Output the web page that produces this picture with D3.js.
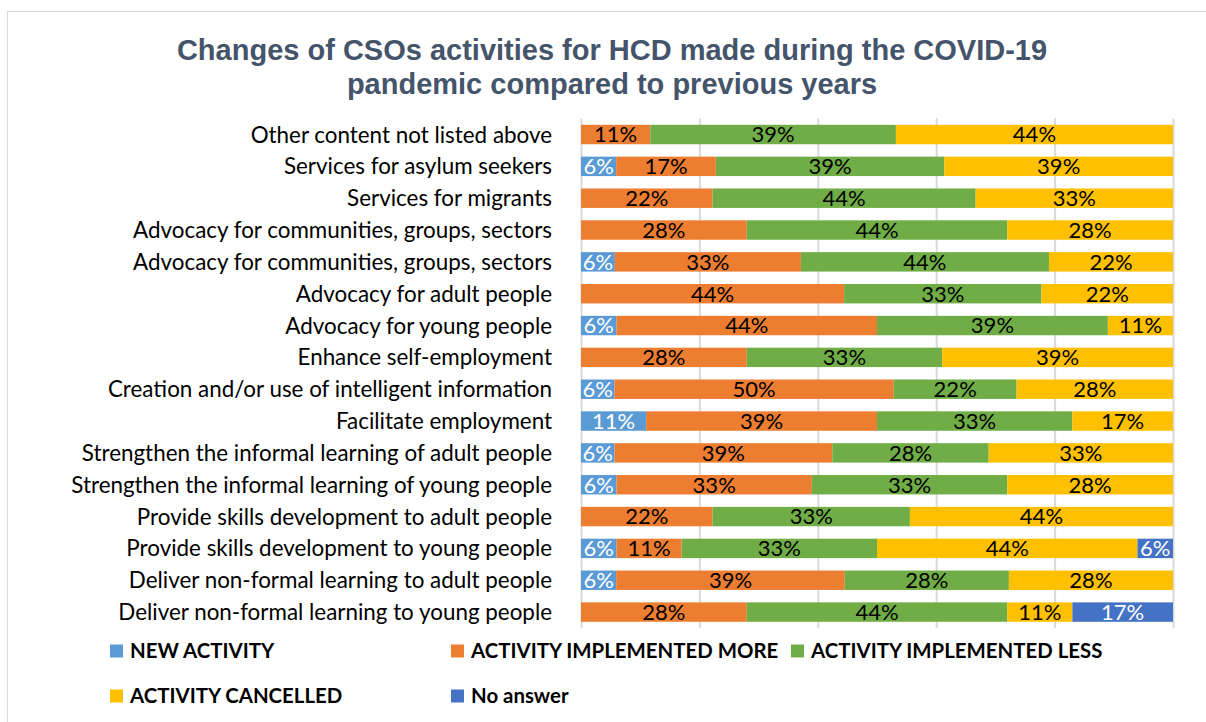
<!DOCTYPE html>
<html>
<head>
<meta charset="utf-8">
<script src="https://cdn.jsdelivr.net/npm/d3@7"></script>
<style>
  html, body { margin: 0; padding: 0; background: #ffffff; }
  svg { display: block; }
</style>
</head>
<body>
<svg id="chart" width="1206" height="722"></svg>
<script>
// Activities (top to bottom as shown)
const categories = [
  "Other content not listed above",
  "Services for asylum seekers",
  "Services for migrants",
  "Advocacy for communities, groups, sectors",
  "Advocacy for communities, groups, sectors",
  "Advocacy for adult people",
  "Advocacy for young people",
  "Enhance self-employment",
  "Creation and/or use of intelligent information",
  "Facilitate employment",
  "Strengthen the informal learning of adult people",
  "Strengthen the informal learning of young people",
  "Provide skills development to adult people",
  "Provide skills development to young people",
  "Deliver non-formal learning to adult people",
  "Deliver non-formal learning to young people"
];

// Share of respondents per answer (%)
const newActivity     = [0, 6, 0, 0, 6, 0, 6, 0, 6, 11, 6, 6, 0, 6, 6, 0];
const implementedMore = [11, 17, 22, 28, 33, 44, 44, 28, 50, 39, 39, 33, 22, 11, 39, 28];
const implementedLess = [39, 39, 44, 44, 44, 33, 39, 33, 22, 33, 28, 33, 33, 33, 28, 44];
const cancelled       = [44, 39, 33, 28, 22, 22, 11, 39, 28, 17, 33, 28, 44, 44, 28, 11];
const noAnswer        = [0, 0, 0, 0, 0, 0, 0, 0, 0, 0, 0, 0, 0, 6, 0, 17];

const seriesNames = ["NEW ACTIVITY", "ACTIVITY IMPLEMENTED MORE", "ACTIVITY IMPLEMENTED LESS", "ACTIVITY CANCELLED", "No answer"];
const seriesKeys = ["new", "more", "less", "cancelled", "noanswer"];
const seriesColors = ["#5B9BD5", "#ED7D31", "#70AD47", "#FFC000", "#4472C4"];
const labelColors = ["#ffffff", "#000000", "#000000", "#000000", "#ffffff"];
const xTicks = [0, 0.2, 0.4, 0.6, 0.8, 1];

const title = ["Changes of CSOs activities for HCD made during the COVID-19",
               "pandemic compared to previous years"];

const rows = categories.map((c, i) => ({
  idx: i, name: c,
  new: newActivity[i], more: implementedMore[i], less: implementedLess[i],
  cancelled: cancelled[i], noanswer: noAnswer[i]
}));

const svg = d3.select("#chart");
const labelFont = "Lato, 'Open Sans', sans-serif";

// Outer frame
svg.append("rect")
  .attr("x", 7.5).attr("y", 11.5).attr("width", 1220).attr("height", 730)
  .attr("fill", "#ffffff").attr("stroke", "#D9D9D9").attr("stroke-width", 1);

const plot = { left: 581, right: 1173, top: 118.6, bottom: 628 };

const x = d3.scaleLinear().domain([0, 1]).range([plot.left, plot.right]);
const y = d3.scaleBand()
  .domain(rows.map(d => d.idx))
  .range([plot.top, plot.bottom])
  .paddingInner(0.39).paddingOuter(0.195);

// Title
svg.append("text")
  .attr("x", 612).attr("text-anchor", "middle")
  .attr("font-family", "'Liberation Sans', Arial, sans-serif")
  .attr("font-weight", "bold").attr("font-size", 29)
  .attr("fill", "#44546A")
  .selectAll("tspan").data(title).join("tspan")
  .attr("x", 612).attr("y", (d, i) => 60 + i * 34)
  .text(d => d);

// Vertical gridlines
svg.append("g")
  .attr("transform", `translate(0,${plot.bottom})`)
  .call(d3.axisBottom(x).tickValues(xTicks).tickSize(-(plot.bottom - plot.top)).tickFormat(""))
  .call(g => g.select(".domain").remove())
  .call(g => g.selectAll(".tick line").attr("stroke", "#D9D9D9").attr("stroke-width", 2));

// Stacked, normalised to 100%
const stack = d3.stack().keys(seriesKeys).offset(d3.stackOffsetExpand);
const stacked = stack(rows);

const layers = svg.append("g").selectAll("g")
  .data(stacked).join("g")
  .attr("fill", (d, i) => seriesColors[i]);

layers.selectAll("rect")
  .data(d => d)
  .join("rect")
  .attr("x", d => x(d[0]))
  .attr("y", d => y(d.data.idx))
  .attr("width", d => Math.max(0, x(d[1]) - x(d[0])))
  .attr("height", y.bandwidth());

// Segment value labels
const labels = svg.append("g").selectAll("g")
  .data(stacked).join("g")
  .attr("fill", (d, i) => labelColors[i]);

labels.selectAll("text")
  .data(d => d.filter(p => p.data[d.key] > 0).map(p => ({ p, key: d.key })))
  .join("text")
  .attr("x", d => (x(d.p[0]) + x(d.p[1])) / 2)
  .attr("y", d => y(d.p.data.idx) + y.bandwidth() / 2)
  .attr("dy", "0.36em")
  .attr("text-anchor", "middle")
  .attr("font-family", labelFont)
  .attr("font-size", 22)
  .text(d => d.p.data[d.key] + "%");

// Category axis labels
svg.append("g")
  .attr("transform", `translate(${plot.left},0)`)
  .call(d3.axisLeft(y).tickSize(0).tickPadding(29).tickFormat(i => categories[i]))
  .call(g => g.select(".domain").remove())
  .call(g => g.selectAll("text")
    .attr("font-family", labelFont)
    .attr("font-size", 22.4)
    .attr("fill", "#000000")
    .attr("dy", "0.36em"));

// Legend
const legendPos = [
  [110, 651], [451, 651], [791, 651],
  [110, 696], [451, 696]
];
const legend = svg.append("g").selectAll("g")
  .data(seriesNames).join("g")
  .attr("transform", (d, i) => `translate(${legendPos[i][0]},${legendPos[i][1]})`);
legend.append("rect")
  .attr("x", 0).attr("y", -6.5).attr("width", 13).attr("height", 13)
  .attr("fill", (d, i) => seriesColors[i]);
legend.append("text")
  .attr("x", 20).attr("dy", "0.36em")
  .attr("font-family", labelFont)
  .attr("font-weight", "bold")
  .attr("font-size", 20.4)
  .attr("fill", "#000000")
  .text(d => d);
</script>
</body>
</html>
